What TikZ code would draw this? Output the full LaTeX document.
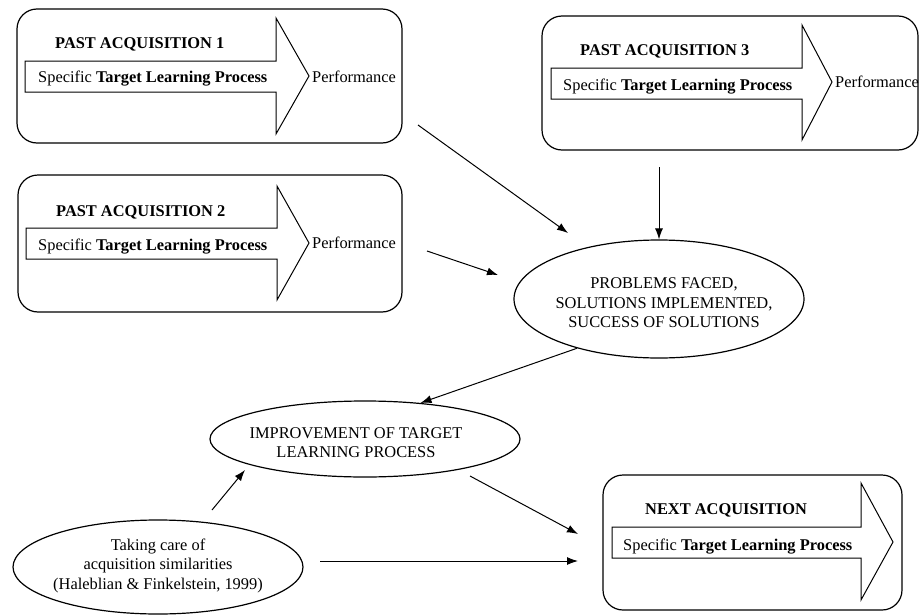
\documentclass[tikz,border=0pt]{standalone}
\usepackage{fontspec}
\setmainfont{Liberation Serif}
\usetikzlibrary{arrows.meta}
\usetikzlibrary{shapes.geometric}

\begin{document}
\begin{tikzpicture}[x=1pt,y=-1pt,font=\fontsize{16.4}{19.5}\selectfont]
	%\draw[help lines,step=50] (0,0) grid (919,616);
	
	\tikzstyle{abox} = [draw,rounded corners=20pt,line width=1.2pt]
	\tikzstyle{ell} = [ellipse,draw,line width=1.2pt]
	\tikzstyle{txt} = [inner sep=0pt,anchor=base west]
	\tikzstyle{etxt} = [inner sep=0pt,align=center]
	\tikzstyle{blk} = [draw,line width=1pt,line join=miter]
	\tikzstyle{vedge} = [-{Latex[length=11pt,width=8pt]},line width=1pt]
	
\useasboundingbox (0,0) rectangle (919,616);

\node[abox,minimum width=385pt,minimum height=134pt] (b1) at (209.5,76) {};
\node[abox,minimum width=384pt,minimum height=137pt] (b2) at (210,243.5) {};
\node[abox,minimum width=376pt,minimum height=134pt] (b3) at (730,83) {};
\node[abox,minimum width=299pt,minimum height=135pt] (b4) at (752.5,542.5) {};

\draw[blk] (25,61) -- (276,61) -- (276,18) -- (309,76) -- (276,134) -- (276,92) -- (25,92) -- cycle;
\draw[blk] (26,228) -- (277,228) -- (277,186) -- (309,243) -- (277,300) -- (277,259) -- (26,259) -- cycle;
\draw[blk] (551,68) -- (802,68) -- (802,25) -- (832,82) -- (802,140) -- (802,99) -- (551,99) -- cycle;
\draw[blk] (612,527) -- (861,527) -- (861,483) -- (893,542) -- (861,600) -- (861,558) -- (612,558) -- cycle;

\node[txt] (h1) at (55,48) {\textbf{PAST ACQUISITION 1}};
\node[txt] (s1) at (38,82) {Specific \textbf{Target Learning Process}};
\node[txt] (f1) at (312,82) {Performance};

\node[txt] (h2) at (56,216) {\textbf{PAST ACQUISITION 2}};
\node[txt] (s2) at (38,250) {Specific \textbf{Target Learning Process}};
\node[txt] (f2) at (312,248) {Performance};

\node[txt] (h3) at (580,55) {\textbf{PAST ACQUISITION 3}};
\node[txt] (s3) at (563,90) {Specific \textbf{Target Learning Process}};
\node[txt] (f3) at (835,87) {Performance};

\node[txt] (h4) at (645,514) {\textbf{NEXT ACQUISITION}};
\node[txt] (s4) at (623,550) {Specific \textbf{Target Learning Process}};

\node[ell,minimum width=290pt,minimum height=118pt] (p) at (659,299) {};
\node[etxt] (ptxt) at (664,303) {PROBLEMS FACED,\\SOLUTIONS IMPLEMENTED,\\SUCCESS OF SOLUTIONS};

\node[ell,minimum width=310pt,minimum height=76pt] (i) at (365,439) {};
\node[etxt] (itxt) at (356,442.5) {IMPROVEMENT OF TARGET\\LEARNING PROCESS};

\node[ell,minimum width=290pt,minimum height=94pt] (t) at (158,567) {};
\node[etxt] (ttxt) at (158,565.5) {Taking care of\\acquisition similarities\\(Haleblian \& Finkelstein, 1999)};

\coordinate (c1s) at (418,125);
\coordinate (c1e) at (568,233);
\coordinate (c2s) at (427,251);
\coordinate (c2e) at (498,275);
\coordinate (c3s) at (659,167);
\coordinate (c5s) at (212,510);
\coordinate (c5e) at (245,470);
\coordinate (c6s) at (470,476);
\coordinate (c6e) at (578,534);
\coordinate (c7s) at (320,561);
\coordinate (c7e) at (578,561);

\draw[vedge] (c1s) -- (c1e);
\draw[vedge] (c2s) -- (c2e);
\draw[vedge] (c3s) -- (c3s |- p.north);
\draw[vedge] (p.211) -- (i.33);
\draw[vedge] (c5s) -- (c5e);
\draw[vedge] (c6s) -- (c6e);
\draw[vedge] (c7s) -- (c7e);
\end{tikzpicture}
\end{document}
